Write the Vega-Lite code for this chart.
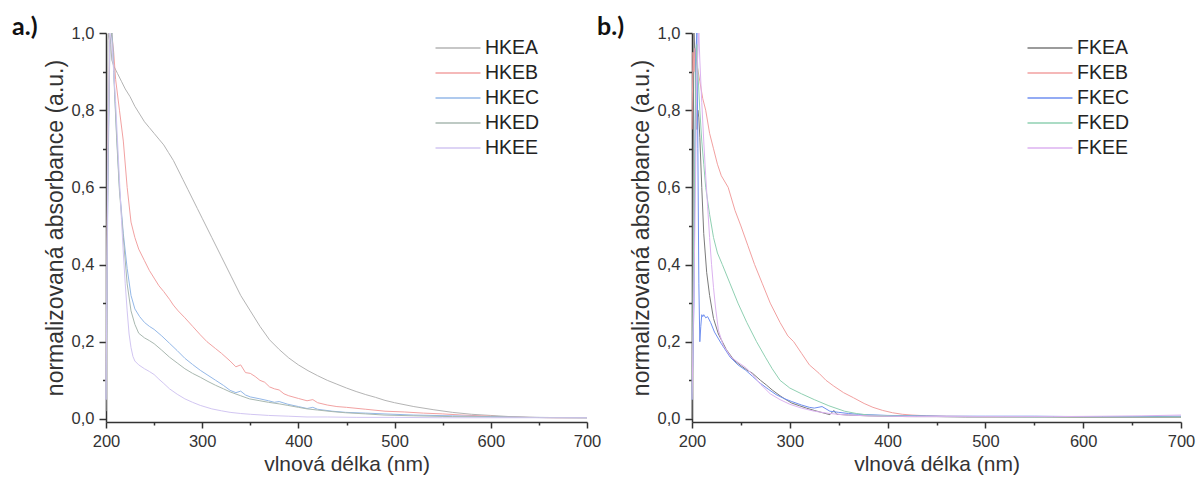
{
  "$schema": "https://vega.github.io/schema/vega-lite/v6.json",
  "padding": {"left": 12, "top": 15, "right": 5, "bottom": 5},
  "background": "white",
  "config": {
    "view": {"stroke": null},
    "font": "Liberation Sans",
    "axis": {
      "grid": false,
      "ticks": true,
      "domainColor": "#333",
      "domainWidth": 1.5,
      "tickColor": "#333",
      "tickWidth": 1.5,
      "labelColor": "#333",
      "titleColor": "#333",
      "labelFont": "Liberation Sans",
      "titleFont": "Liberation Sans",
      "titleFontWeight": "normal",
      "labelFontSize": 16.5,
      "titleFontSize": 21,
      "labelFlush": false,
      "labelOverlap": false
    },
    "legend": {
      "orient": "none",
      "title": null,
      "symbolType": "M-2,0H2",
      "symbolSize": 506,
      "symbolStrokeWidth": 1.5,
      "labelFont": "Liberation Sans",
      "labelFontSize": 19.5,
      "labelColor": "#222",
      "labelOffset": 15,
      "rowPadding": 3
    },
    "title": {"font": "Lato", "fontWeight": "bold", "fontSize": 25, "color": "#111", "anchor": "start", "frame": "group"}
  },
  "datasets": {
    "a": [
      {"s":"HKEA","x":200,"y":0.02},{"s":"HKEA","x":201,"y":0.5},{"s":"HKEA","x":202,"y":0.98},{"s":"HKEA","x":203,"y":1.0},{"s":"HKEA","x":205,"y":0.97},{"s":"HKEA","x":206,"y":0.93},{"s":"HKEA","x":208,"y":0.915},{"s":"HKEA","x":212,"y":0.895},{"s":"HKEA","x":216,"y":0.875},{"s":"HKEA","x":220,"y":0.855},{"s":"HKEA","x":225,"y":0.835},{"s":"HKEA","x":230,"y":0.81},{"s":"HKEA","x":235,"y":0.79},{"s":"HKEA","x":240,"y":0.77},{"s":"HKEA","x":245,"y":0.755},{"s":"HKEA","x":250,"y":0.74},{"s":"HKEA","x":255,"y":0.725},{"s":"HKEA","x":260,"y":0.71},{"s":"HKEA","x":265,"y":0.69},{"s":"HKEA","x":270,"y":0.67},{"s":"HKEA","x":275,"y":0.645},{"s":"HKEA","x":280,"y":0.62},{"s":"HKEA","x":285,"y":0.595},{"s":"HKEA","x":290,"y":0.57},{"s":"HKEA","x":295,"y":0.545},{"s":"HKEA","x":300,"y":0.52},{"s":"HKEA","x":310,"y":0.47},{"s":"HKEA","x":320,"y":0.42},{"s":"HKEA","x":330,"y":0.37},{"s":"HKEA","x":340,"y":0.32},{"s":"HKEA","x":350,"y":0.28},{"s":"HKEA","x":360,"y":0.24},{"s":"HKEA","x":370,"y":0.205},{"s":"HKEA","x":380,"y":0.18},{"s":"HKEA","x":390,"y":0.158},{"s":"HKEA","x":400,"y":0.14},{"s":"HKEA","x":410,"y":0.125},{"s":"HKEA","x":420,"y":0.112},{"s":"HKEA","x":430,"y":0.1},{"s":"HKEA","x":440,"y":0.09},{"s":"HKEA","x":450,"y":0.08},{"s":"HKEA","x":460,"y":0.071},{"s":"HKEA","x":470,"y":0.063},{"s":"HKEA","x":480,"y":0.056},{"s":"HKEA","x":490,"y":0.048},{"s":"HKEA","x":500,"y":0.042},{"s":"HKEA","x":520,"y":0.032},{"s":"HKEA","x":540,"y":0.024},{"s":"HKEA","x":560,"y":0.017},{"s":"HKEA","x":580,"y":0.012},{"s":"HKEA","x":600,"y":0.009},{"s":"HKEA","x":620,"y":0.006},{"s":"HKEA","x":640,"y":0.004},{"s":"HKEA","x":660,"y":0.003},{"s":"HKEA","x":680,"y":0.003},{"s":"HKEA","x":700,"y":0.003},

      {"s":"HKEB","x":200,"y":0.05},{"s":"HKEB","x":202,"y":0.7},{"s":"HKEB","x":204,"y":0.98},{"s":"HKEB","x":206,"y":1.0},{"s":"HKEB","x":208,"y":0.95},{"s":"HKEB","x":210,"y":0.88},{"s":"HKEB","x":214,"y":0.8},{"s":"HKEB","x":218,"y":0.72},{"s":"HKEB","x":222,"y":0.6},{"s":"HKEB","x":226,"y":0.51},{"s":"HKEB","x":230,"y":0.47},{"s":"HKEB","x":234,"y":0.44},{"s":"HKEB","x":240,"y":0.41},{"s":"HKEB","x":245,"y":0.385},{"s":"HKEB","x":250,"y":0.365},{"s":"HKEB","x":255,"y":0.345},{"s":"HKEB","x":260,"y":0.33},{"s":"HKEB","x":266,"y":0.31},{"s":"HKEB","x":270,"y":0.295},{"s":"HKEB","x":275,"y":0.28},{"s":"HKEB","x":282,"y":0.262},{"s":"HKEB","x":290,"y":0.24},{"s":"HKEB","x":298,"y":0.218},{"s":"HKEB","x":305,"y":0.2},{"s":"HKEB","x":314,"y":0.182},{"s":"HKEB","x":320,"y":0.17},{"s":"HKEB","x":329,"y":0.15},{"s":"HKEB","x":335,"y":0.135},{"s":"HKEB","x":340,"y":0.14},{"s":"HKEB","x":345,"y":0.12},{"s":"HKEB","x":350,"y":0.118},{"s":"HKEB","x":355,"y":0.11},{"s":"HKEB","x":360,"y":0.1},{"s":"HKEB","x":365,"y":0.095},{"s":"HKEB","x":370,"y":0.083},{"s":"HKEB","x":375,"y":0.078},{"s":"HKEB","x":380,"y":0.075},{"s":"HKEB","x":385,"y":0.065},{"s":"HKEB","x":390,"y":0.06},{"s":"HKEB","x":400,"y":0.053},{"s":"HKEB","x":409,"y":0.047},{"s":"HKEB","x":415,"y":0.05},{"s":"HKEB","x":420,"y":0.042},{"s":"HKEB","x":430,"y":0.036},{"s":"HKEB","x":440,"y":0.032},{"s":"HKEB","x":450,"y":0.03},{"s":"HKEB","x":470,"y":0.025},{"s":"HKEB","x":490,"y":0.02},{"s":"HKEB","x":510,"y":0.018},{"s":"HKEB","x":530,"y":0.015},{"s":"HKEB","x":550,"y":0.013},{"s":"HKEB","x":570,"y":0.01},{"s":"HKEB","x":590,"y":0.008},{"s":"HKEB","x":610,"y":0.006},{"s":"HKEB","x":640,"y":0.004},{"s":"HKEB","x":670,"y":0.003},{"s":"HKEB","x":700,"y":0.003},

      {"s":"HKEC","x":200,"y":0.05},{"s":"HKEC","x":202,"y":0.6},{"s":"HKEC","x":204,"y":0.97},{"s":"HKEC","x":206,"y":1.0},{"s":"HKEC","x":207,"y":0.97},{"s":"HKEC","x":209,"y":0.85},{"s":"HKEC","x":211,"y":0.74},{"s":"HKEC","x":214,"y":0.6},{"s":"HKEC","x":218,"y":0.48},{"s":"HKEC","x":222,"y":0.39},{"s":"HKEC","x":226,"y":0.32},{"s":"HKEC","x":230,"y":0.285},{"s":"HKEC","x":235,"y":0.265},{"s":"HKEC","x":240,"y":0.25},{"s":"HKEC","x":245,"y":0.24},{"s":"HKEC","x":250,"y":0.232},{"s":"HKEC","x":258,"y":0.215},{"s":"HKEC","x":266,"y":0.196},{"s":"HKEC","x":274,"y":0.177},{"s":"HKEC","x":282,"y":0.157},{"s":"HKEC","x":290,"y":0.141},{"s":"HKEC","x":298,"y":0.126},{"s":"HKEC","x":306,"y":0.113},{"s":"HKEC","x":314,"y":0.1},{"s":"HKEC","x":322,"y":0.087},{"s":"HKEC","x":329,"y":0.074},{"s":"HKEC","x":335,"y":0.068},{"s":"HKEC","x":340,"y":0.072},{"s":"HKEC","x":345,"y":0.062},{"s":"HKEC","x":350,"y":0.057},{"s":"HKEC","x":360,"y":0.052},{"s":"HKEC","x":369,"y":0.047},{"s":"HKEC","x":375,"y":0.043},{"s":"HKEC","x":380,"y":0.045},{"s":"HKEC","x":389,"y":0.038},{"s":"HKEC","x":400,"y":0.032},{"s":"HKEC","x":409,"y":0.027},{"s":"HKEC","x":415,"y":0.03},{"s":"HKEC","x":420,"y":0.025},{"s":"HKEC","x":435,"y":0.02},{"s":"HKEC","x":449,"y":0.017},{"s":"HKEC","x":470,"y":0.015},{"s":"HKEC","x":489,"y":0.013},{"s":"HKEC","x":520,"y":0.01},{"s":"HKEC","x":560,"y":0.008},{"s":"HKEC","x":600,"y":0.006},{"s":"HKEC","x":640,"y":0.004},{"s":"HKEC","x":700,"y":0.003},

      {"s":"HKED","x":200,"y":0.05},{"s":"HKED","x":202,"y":0.65},{"s":"HKED","x":204,"y":0.97},{"s":"HKED","x":206,"y":1.0},{"s":"HKED","x":207,"y":0.96},{"s":"HKED","x":209,"y":0.84},{"s":"HKED","x":211,"y":0.73},{"s":"HKED","x":214,"y":0.59},{"s":"HKED","x":218,"y":0.47},{"s":"HKED","x":222,"y":0.35},{"s":"HKED","x":226,"y":0.28},{"s":"HKED","x":230,"y":0.245},{"s":"HKED","x":234,"y":0.222},{"s":"HKED","x":240,"y":0.21},{"s":"HKED","x":245,"y":0.203},{"s":"HKED","x":250,"y":0.195},{"s":"HKED","x":258,"y":0.178},{"s":"HKED","x":266,"y":0.16},{"s":"HKED","x":274,"y":0.145},{"s":"HKED","x":282,"y":0.13},{"s":"HKED","x":290,"y":0.118},{"s":"HKED","x":298,"y":0.108},{"s":"HKED","x":306,"y":0.097},{"s":"HKED","x":314,"y":0.087},{"s":"HKED","x":322,"y":0.078},{"s":"HKED","x":329,"y":0.07},{"s":"HKED","x":340,"y":0.06},{"s":"HKED","x":349,"y":0.052},{"s":"HKED","x":360,"y":0.047},{"s":"HKED","x":369,"y":0.043},{"s":"HKED","x":380,"y":0.039},{"s":"HKED","x":389,"y":0.035},{"s":"HKED","x":400,"y":0.03},{"s":"HKED","x":409,"y":0.026},{"s":"HKED","x":420,"y":0.023},{"s":"HKED","x":435,"y":0.019},{"s":"HKED","x":449,"y":0.016},{"s":"HKED","x":470,"y":0.013},{"s":"HKED","x":489,"y":0.01},{"s":"HKED","x":520,"y":0.008},{"s":"HKED","x":560,"y":0.006},{"s":"HKED","x":600,"y":0.005},{"s":"HKED","x":640,"y":0.004},{"s":"HKED","x":700,"y":0.003},

      {"s":"HKEE","x":200,"y":0.05},{"s":"HKEE","x":202,"y":0.7},{"s":"HKEE","x":204,"y":1.0},{"s":"HKEE","x":206,"y":0.98},{"s":"HKEE","x":208,"y":0.9},{"s":"HKEE","x":210,"y":0.82},{"s":"HKEE","x":212,"y":0.72},{"s":"HKEE","x":214,"y":0.62},{"s":"HKEE","x":216,"y":0.52},{"s":"HKEE","x":218,"y":0.43},{"s":"HKEE","x":220,"y":0.35},{"s":"HKEE","x":222,"y":0.28},{"s":"HKEE","x":224,"y":0.22},{"s":"HKEE","x":226,"y":0.185},{"s":"HKEE","x":228,"y":0.162},{"s":"HKEE","x":230,"y":0.15},{"s":"HKEE","x":234,"y":0.14},{"s":"HKEE","x":240,"y":0.13},{"s":"HKEE","x":245,"y":0.123},{"s":"HKEE","x":250,"y":0.115},{"s":"HKEE","x":255,"y":0.103},{"s":"HKEE","x":260,"y":0.092},{"s":"HKEE","x":266,"y":0.078},{"s":"HKEE","x":274,"y":0.064},{"s":"HKEE","x":282,"y":0.052},{"s":"HKEE","x":290,"y":0.043},{"s":"HKEE","x":298,"y":0.035},{"s":"HKEE","x":310,"y":0.026},{"s":"HKEE","x":320,"y":0.021},{"s":"HKEE","x":329,"y":0.017},{"s":"HKEE","x":340,"y":0.014},{"s":"HKEE","x":350,"y":0.012},{"s":"HKEE","x":369,"y":0.009},{"s":"HKEE","x":390,"y":0.007},{"s":"HKEE","x":409,"y":0.005},{"s":"HKEE","x":430,"y":0.005},{"s":"HKEE","x":460,"y":0.004},{"s":"HKEE","x":500,"y":0.004},{"s":"HKEE","x":550,"y":0.003},{"s":"HKEE","x":600,"y":0.003},{"s":"HKEE","x":650,"y":0.003},{"s":"HKEE","x":700,"y":0.003}
    ],
    "b": [
      {"s":"FKEA","x":200,"y":0.0},{"s":"FKEA","x":201,"y":0.6},{"s":"FKEA","x":202,"y":1.0},{"s":"FKEA","x":203,"y":0.95},{"s":"FKEA","x":204,"y":0.85},{"s":"FKEA","x":205,"y":0.75},{"s":"FKEA","x":206,"y":0.8},{"s":"FKEA","x":207,"y":0.78},{"s":"FKEA","x":208,"y":0.73},{"s":"FKEA","x":210,"y":0.6},{"s":"FKEA","x":212,"y":0.48},{"s":"FKEA","x":215,"y":0.38},{"s":"FKEA","x":218,"y":0.32},{"s":"FKEA","x":222,"y":0.26},{"s":"FKEA","x":227,"y":0.22},{"s":"FKEA","x":235,"y":0.18},{"s":"FKEA","x":243,"y":0.152},{"s":"FKEA","x":250,"y":0.138},{"s":"FKEA","x":256,"y":0.127},{"s":"FKEA","x":262,"y":0.118},{"s":"FKEA","x":270,"y":0.1},{"s":"FKEA","x":276,"y":0.088},{"s":"FKEA","x":282,"y":0.075},{"s":"FKEA","x":290,"y":0.06},{"s":"FKEA","x":296,"y":0.05},{"s":"FKEA","x":302,"y":0.041},{"s":"FKEA","x":310,"y":0.034},{"s":"FKEA","x":317,"y":0.028},{"s":"FKEA","x":325,"y":0.022},{"s":"FKEA","x":335,"y":0.015},{"s":"FKEA","x":341,"y":0.011},{"s":"FKEA","x":345,"y":0.022},{"s":"FKEA","x":348,"y":0.012},{"s":"FKEA","x":360,"y":0.01},{"s":"FKEA","x":380,"y":0.008},{"s":"FKEA","x":400,"y":0.007},{"s":"FKEA","x":420,"y":0.006},{"s":"FKEA","x":450,"y":0.006},{"s":"FKEA","x":480,"y":0.005},{"s":"FKEA","x":520,"y":0.005},{"s":"FKEA","x":560,"y":0.005},{"s":"FKEA","x":600,"y":0.004},{"s":"FKEA","x":650,"y":0.004},{"s":"FKEA","x":700,"y":0.004},

      {"s":"FKEB","x":200,"y":0.75},{"s":"FKEB","x":201,"y":0.95},{"s":"FKEB","x":202,"y":0.9},{"s":"FKEB","x":203,"y":0.96},{"s":"FKEB","x":205,"y":0.92},{"s":"FKEB","x":208,"y":0.875},{"s":"FKEB","x":211,"y":0.83},{"s":"FKEB","x":214,"y":0.8},{"s":"FKEB","x":218,"y":0.74},{"s":"FKEB","x":222,"y":0.7},{"s":"FKEB","x":226,"y":0.66},{"s":"FKEB","x":230,"y":0.63},{"s":"FKEB","x":237,"y":0.6},{"s":"FKEB","x":244,"y":0.54},{"s":"FKEB","x":250,"y":0.5},{"s":"FKEB","x":257,"y":0.45},{"s":"FKEB","x":264,"y":0.4},{"s":"FKEB","x":272,"y":0.35},{"s":"FKEB","x":280,"y":0.3},{"s":"FKEB","x":290,"y":0.25},{"s":"FKEB","x":298,"y":0.215},{"s":"FKEB","x":304,"y":0.2},{"s":"FKEB","x":312,"y":0.17},{"s":"FKEB","x":320,"y":0.14},{"s":"FKEB","x":330,"y":0.118},{"s":"FKEB","x":337,"y":0.1},{"s":"FKEB","x":345,"y":0.085},{"s":"FKEB","x":355,"y":0.068},{"s":"FKEB","x":365,"y":0.055},{"s":"FKEB","x":376,"y":0.04},{"s":"FKEB","x":385,"y":0.03},{"s":"FKEB","x":395,"y":0.022},{"s":"FKEB","x":405,"y":0.016},{"s":"FKEB","x":415,"y":0.012},{"s":"FKEB","x":425,"y":0.01},{"s":"FKEB","x":440,"y":0.008},{"s":"FKEB","x":460,"y":0.007},{"s":"FKEB","x":500,"y":0.006},{"s":"FKEB","x":550,"y":0.006},{"s":"FKEB","x":600,"y":0.005},{"s":"FKEB","x":650,"y":0.005},{"s":"FKEB","x":700,"y":0.005},

      {"s":"FKEC","x":200,"y":0.05},{"s":"FKEC","x":202,"y":0.3},{"s":"FKEC","x":203,"y":0.7},{"s":"FKEC","x":204,"y":0.95},{"s":"FKEC","x":205,"y":1.0},{"s":"FKEC","x":206,"y":0.7},{"s":"FKEC","x":207,"y":0.35},{"s":"FKEC","x":208,"y":0.2},{"s":"FKEC","x":209,"y":0.24},{"s":"FKEC","x":210,"y":0.27},{"s":"FKEC","x":211,"y":0.265},{"s":"FKEC","x":212,"y":0.27},{"s":"FKEC","x":214,"y":0.262},{"s":"FKEC","x":216,"y":0.265},{"s":"FKEC","x":219,"y":0.25},{"s":"FKEC","x":223,"y":0.225},{"s":"FKEC","x":230,"y":0.195},{"s":"FKEC","x":239,"y":0.16},{"s":"FKEC","x":247,"y":0.14},{"s":"FKEC","x":255,"y":0.126},{"s":"FKEC","x":262,"y":0.11},{"s":"FKEC","x":270,"y":0.092},{"s":"FKEC","x":278,"y":0.077},{"s":"FKEC","x":286,"y":0.063},{"s":"FKEC","x":294,"y":0.053},{"s":"FKEC","x":302,"y":0.045},{"s":"FKEC","x":312,"y":0.036},{"s":"FKEC","x":320,"y":0.03},{"s":"FKEC","x":325,"y":0.028},{"s":"FKEC","x":333,"y":0.032},{"s":"FKEC","x":341,"y":0.02},{"s":"FKEC","x":350,"y":0.017},{"s":"FKEC","x":360,"y":0.014},{"s":"FKEC","x":370,"y":0.012},{"s":"FKEC","x":380,"y":0.011},{"s":"FKEC","x":400,"y":0.009},{"s":"FKEC","x":430,"y":0.008},{"s":"FKEC","x":460,"y":0.007},{"s":"FKEC","x":500,"y":0.007},{"s":"FKEC","x":550,"y":0.007},{"s":"FKEC","x":600,"y":0.006},{"s":"FKEC","x":650,"y":0.006},{"s":"FKEC","x":700,"y":0.007},

      {"s":"FKED","x":200,"y":0.05},{"s":"FKED","x":202,"y":0.5},{"s":"FKED","x":204,"y":0.9},{"s":"FKED","x":205,"y":0.97},{"s":"FKED","x":206,"y":0.9},{"s":"FKED","x":208,"y":0.8},{"s":"FKED","x":210,"y":0.72},{"s":"FKED","x":212,"y":0.66},{"s":"FKED","x":214,"y":0.6},{"s":"FKED","x":218,"y":0.53},{"s":"FKED","x":222,"y":0.47},{"s":"FKED","x":226,"y":0.43},{"s":"FKED","x":231,"y":0.4},{"s":"FKED","x":239,"y":0.35},{"s":"FKED","x":247,"y":0.3},{"s":"FKED","x":256,"y":0.25},{"s":"FKED","x":266,"y":0.2},{"s":"FKED","x":275,"y":0.16},{"s":"FKED","x":282,"y":0.13},{"s":"FKED","x":290,"y":0.1},{"s":"FKED","x":300,"y":0.08},{"s":"FKED","x":312,"y":0.065},{"s":"FKED","x":325,"y":0.05},{"s":"FKED","x":340,"y":0.034},{"s":"FKED","x":356,"y":0.02},{"s":"FKED","x":368,"y":0.014},{"s":"FKED","x":380,"y":0.01},{"s":"FKED","x":400,"y":0.008},{"s":"FKED","x":430,"y":0.007},{"s":"FKED","x":460,"y":0.006},{"s":"FKED","x":500,"y":0.006},{"s":"FKED","x":550,"y":0.005},{"s":"FKED","x":600,"y":0.005},{"s":"FKED","x":650,"y":0.005},{"s":"FKED","x":700,"y":0.005},

      {"s":"FKEE","x":200,"y":0.05},{"s":"FKEE","x":203,"y":0.5},{"s":"FKEE","x":205,"y":0.9},{"s":"FKEE","x":207,"y":1.0},{"s":"FKEE","x":208,"y":0.93},{"s":"FKEE","x":210,"y":0.82},{"s":"FKEE","x":212,"y":0.72},{"s":"FKEE","x":214,"y":0.63},{"s":"FKEE","x":216,"y":0.55},{"s":"FKEE","x":218,"y":0.47},{"s":"FKEE","x":220,"y":0.4},{"s":"FKEE","x":222,"y":0.34},{"s":"FKEE","x":224,"y":0.29},{"s":"FKEE","x":227,"y":0.23},{"s":"FKEE","x":232,"y":0.19},{"s":"FKEE","x":240,"y":0.16},{"s":"FKEE","x":248,"y":0.145},{"s":"FKEE","x":255,"y":0.133},{"s":"FKEE","x":262,"y":0.115},{"s":"FKEE","x":270,"y":0.09},{"s":"FKEE","x":280,"y":0.065},{"s":"FKEE","x":290,"y":0.05},{"s":"FKEE","x":300,"y":0.038},{"s":"FKEE","x":312,"y":0.028},{"s":"FKEE","x":325,"y":0.02},{"s":"FKEE","x":338,"y":0.015},{"s":"FKEE","x":349,"y":0.012},{"s":"FKEE","x":360,"y":0.01},{"s":"FKEE","x":380,"y":0.008},{"s":"FKEE","x":400,"y":0.007},{"s":"FKEE","x":430,"y":0.006},{"s":"FKEE","x":470,"y":0.006},{"s":"FKEE","x":520,"y":0.006},{"s":"FKEE","x":570,"y":0.006},{"s":"FKEE","x":620,"y":0.007},{"s":"FKEE","x":660,"y":0.008},{"s":"FKEE","x":700,"y":0.01}
    ]
  },
  "bounds": "flush",
  "spacing": 105,
  "resolve": {"scale": {"color": "independent"}},
  "hconcat": [
    {
      "width": 481,
      "height": 389,
      "title": {"text": "a.)", "dx": -94, "dy": 19},
      "data": {"name": "a"},
      "resolve": {"axis": {"x": "independent", "y": "independent"}},
      "layer": [
        {
          "mark": {"type": "line", "strokeWidth": 1},
          "encoding": {
            "x": {"field": "x", "type": "quantitative", "scale": {"domain": [200, 700], "nice": false, "zero": false},
              "axis": {"title": "vlnová délka (nm)", "values": [200,300,400,500,600,700], "tickSize": 6, "labelPadding": 5, "titlePadding": 4}},
            "y": {"field": "y", "type": "quantitative", "scale": {"domain": [-0.008, 1.0], "nice": false, "zero": false},
              "axis": {"title": "normalizovaná absorbance (a.u.)", "titleFontSize": 23, "values": [0,0.2,0.4,0.6,0.8,1.0],
                "labelExpr": "replace(format(datum.value, '.1f'), '.', ',')", "tickSize": 7, "labelPadding": 5, "titlePadding": 4}},
            "color": {"field": "s", "type": "nominal",
              "scale": {"domain": ["HKEA","HKEB","HKEC","HKED","HKEE"], "range": ["#b4b4b4","#f2a2a2","#94b8e8","#a9b8b0","#d2c6f2"]},
              "legend": {"legendX": 340, "legendY": 3}}
          }
        },
        {
          "mark": {"type": "line", "strokeOpacity": 0},
          "encoding": {
            "x": {"field": "x", "type": "quantitative", "scale": {"domain": [200, 700], "nice": false, "zero": false},
              "axis": {"orient": "bottom", "title": null, "values": [250,350,450,550,650], "tickSize": 3, "labels": false, "domain": false}},
            "y": {"field": "y", "type": "quantitative", "scale": {"domain": [-0.008, 1.0], "nice": false, "zero": false},
              "axis": {"orient": "left", "title": null, "values": [0.1,0.3,0.5,0.7,0.9], "tickSize": 3.5, "labels": false, "domain": false}},
            "detail": {"field": "s"}
          }
        }
      ]
    },
    {
      "width": 489,
      "height": 389,
      "title": {"text": "b.)", "dx": -95, "dy": 19},
      "data": {"name": "b"},
      "resolve": {"axis": {"x": "independent", "y": "independent"}},
      "layer": [
        {
          "mark": {"type": "line", "strokeWidth": 1},
          "encoding": {
            "x": {"field": "x", "type": "quantitative", "scale": {"domain": [200, 700], "nice": false, "zero": false},
              "axis": {"title": "vlnová délka (nm)", "values": [200,300,400,500,600,700], "tickSize": 6, "labelPadding": 5, "titlePadding": 4}},
            "y": {"field": "y", "type": "quantitative", "scale": {"domain": [-0.008, 1.0], "nice": false, "zero": false},
              "axis": {"title": "normalizovaná absorbance (a.u.)", "titleFontSize": 23, "values": [0,0.2,0.4,0.6,0.8,1.0],
                "labelExpr": "replace(format(datum.value, '.1f'), '.', ',')", "tickSize": 7, "labelPadding": 5, "titlePadding": 4}},
            "color": {"field": "s", "type": "nominal",
              "scale": {"domain": ["FKEA","FKEB","FKEC","FKED","FKEE"], "range": ["#7a7a7a","#f2a0a0","#6f8ff0","#8fd0b2","#dcb2f0"]},
              "legend": {"legendX": 346, "legendY": 3}}
          }
        },
        {
          "mark": {"type": "line", "strokeOpacity": 0},
          "encoding": {
            "x": {"field": "x", "type": "quantitative", "scale": {"domain": [200, 700], "nice": false, "zero": false},
              "axis": {"orient": "bottom", "title": null, "values": [250,350,450,550,650], "tickSize": 3, "labels": false, "domain": false}},
            "y": {"field": "y", "type": "quantitative", "scale": {"domain": [-0.008, 1.0], "nice": false, "zero": false},
              "axis": {"orient": "left", "title": null, "values": [0.1,0.3,0.5,0.7,0.9], "tickSize": 3.5, "labels": false, "domain": false}},
            "detail": {"field": "s"}
          }
        }
      ]
    }
  ]
}
